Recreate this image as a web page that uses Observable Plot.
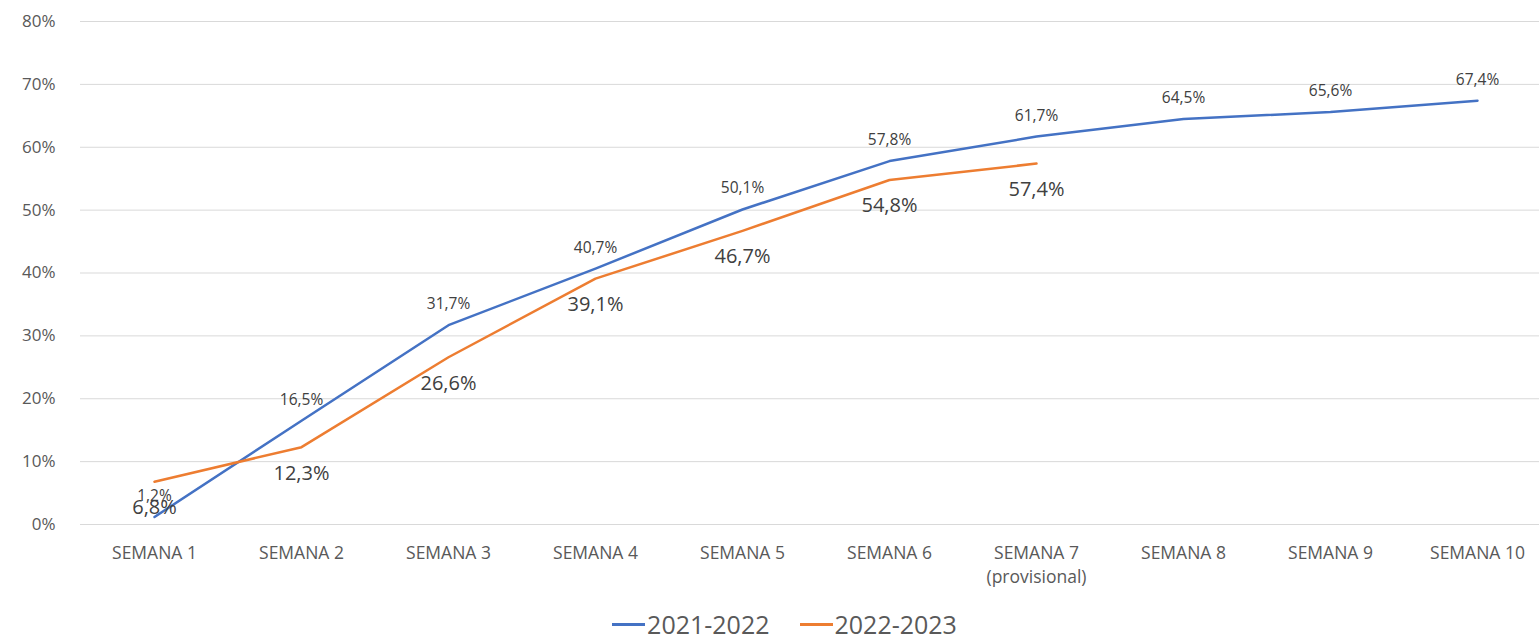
<!DOCTYPE html>
<html>
<head>
<meta charset="utf-8">
<script src="https://cdn.jsdelivr.net/npm/d3@7"></script>
<script src="https://cdn.jsdelivr.net/npm/@observablehq/plot@0.6"></script>
<style>
  html, body { margin: 0; padding: 0; background: #fff; overflow: hidden; }
  #chart { width: 1539px; }
  .legend { display: flex; justify-content: center; align-items: center; gap: 30px; font-family: "Open Sans", Lato, sans-serif; font-size: 25px; color: #595959; height: 32px; margin-left: 30px; }
  .legend span.item { display: flex; align-items: center; }
  .legend span.sw { display: inline-block; width: 33px; height: 3px; margin-right: 2px; }
</style>
</head>
<body>
<div id="chart"></div>
<script>
const weeks = ["SEMANA 1","SEMANA 2","SEMANA 3","SEMANA 4","SEMANA 5","SEMANA 6","SEMANA 7","SEMANA 8","SEMANA 9","SEMANA 10"];
const weekLabels = ["SEMANA 1","SEMANA 2","SEMANA 3","SEMANA 4","SEMANA 5","SEMANA 6","SEMANA 7\n(provisional)","SEMANA 8","SEMANA 9","SEMANA 10"];
const series2122 = [1.2, 16.5, 31.7, 40.7, 50.1, 57.8, 61.7, 64.5, 65.6, 67.4];
const series2223 = [6.8, 12.3, 26.6, 39.1, 46.7, 54.8, 57.4];
const seriesNames = ["2021-2022", "2022-2023"];
const colors = ["#4472C4", "#ED7D31"];
const yTicks = [0, 10, 20, 30, 40, 50, 60, 70, 80];

const d1 = series2122.map((v, i) => ({week: weeks[i], value: v, s: seriesNames[0]}));
const d2 = series2223.map((v, i) => ({week: weeks[i], value: v, s: seriesNames[1]}));
const fmt = v => v.toFixed(1).replace(".", ",") + "%";
const labelMap = new Map(weeks.map((w, i) => [w, weekLabels[i]]));

const chart = Plot.plot({
  width: 1539,
  height: 608,
  marginTop: 21,
  marginBottom: 84,
  marginLeft: 80,
  marginRight: 0,
  style: {fontFamily: "'Open Sans', Lato, sans-serif", background: "#fff"},
  x: {type: "point", domain: weeks, range: [150, 1480], padding: 0, label: null},
  y: {domain: [0, 80], label: null},
  marks: [
    Plot.gridY(yTicks, {stroke: "#d9d9d9", strokeOpacity: 1, strokeWidth: 1}),
    Plot.axisY(yTicks, {tickSize: 0, tickPadding: 25, tickFormat: d => d + "%", fontSize: 17, fill: "#595959", label: null}),
    Plot.axisX({tickSize: 0, tickPadding: 17, tickFormat: d => labelMap.get(d), fontSize: 17.5, lineHeight: 1.4, fill: "#595959", label: null}),
    Plot.line(d1, {x: "week", y: "value", stroke: colors[0], strokeWidth: 2.5}),
    Plot.line(d2, {x: "week", y: "value", stroke: colors[1], strokeWidth: 2.5}),
    Plot.text(d1, {x: "week", y: "value", text: d => fmt(d.value), dy: -21, fontSize: 15.5, fill: "#404040"}),
    Plot.text(d2, {x: "week", y: "value", text: d => fmt(d.value), dy: 26, fontSize: 20, fill: "#404040"})
  ]
});
document.getElementById("chart").appendChild(chart);

const legend = document.createElement("div");
legend.className = "legend";
seriesNames.forEach((name, i) => {
  const item = document.createElement("span");
  item.className = "item";
  const sw = document.createElement("span");
  sw.className = "sw";
  sw.style.background = colors[i];
  item.appendChild(sw);
  item.appendChild(document.createTextNode(name));
  legend.appendChild(item);
});
document.getElementById("chart").appendChild(legend);
</script>
</body>
</html>
